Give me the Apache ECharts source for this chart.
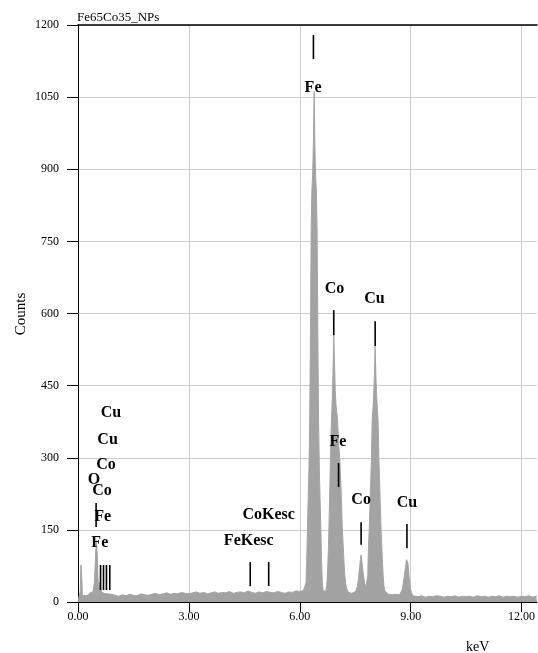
<!DOCTYPE html>
<html>
<head>
<meta charset="utf-8">
<script src="https://cdn.jsdelivr.net/npm/echarts@6/dist/echarts.min.js"></script>
<style>
  html, body { margin: 0; padding: 0; background: #fff; }
  #chart { width: 538px; height: 653px; }
</style>
</head>
<body>
<div id="chart"></div>
<script>
// EDS spectrum of Fe65Co35 nanoparticles: channel energy (keV) and counts
const energy = [
  0.00, 0.04, 0.06, 0.08, 0.10, 0.12, 0.16, 0.20, 0.24, 0.28,
  0.32, 0.36, 0.40, 0.42, 0.44, 0.46, 0.48, 0.50, 0.52, 0.54,
  0.56, 0.58, 0.60, 0.64, 0.70, 0.75, 0.80, 0.85, 0.90, 0.95,
  1.0, 1.1, 1.2, 1.3, 1.4, 1.5, 1.6, 1.7, 1.8, 1.9,
  2.0, 2.1, 2.2, 2.3, 2.4, 2.5, 2.6, 2.7, 2.8, 2.9,
  3.0, 3.1, 3.2, 3.3, 3.4, 3.5, 3.6, 3.7, 3.8, 3.9,
  4.0, 4.1, 4.2, 4.3, 4.4, 4.5, 4.6, 4.7, 4.8, 4.9,
  5.0, 5.1, 5.2, 5.3, 5.4, 5.5, 5.6, 5.7, 5.8, 5.9,
  6.0, 6.1,
  6.13, 6.15, 6.17, 6.19, 6.21, 6.23, 6.25, 6.27, 6.29, 6.31,
  6.33, 6.35, 6.37, 6.39, 6.41, 6.43, 6.45, 6.47, 6.49, 6.51,
  6.53, 6.55, 6.57, 6.59, 6.61, 6.63, 6.66, 6.69,
  6.72, 6.74, 6.76, 6.78, 6.80, 6.82, 6.84, 6.86, 6.88, 6.90,
  6.92, 6.94, 6.96, 6.98, 7.00, 7.02, 7.04, 7.06, 7.08, 7.10,
  7.12, 7.14, 7.16, 7.18, 7.20, 7.22, 7.24, 7.27, 7.30,
  7.34, 7.38, 7.42, 7.46, 7.49,
  7.52, 7.56, 7.59, 7.62, 7.64, 7.66, 7.68, 7.70, 7.73, 7.76, 7.79,
  7.82, 7.84, 7.86, 7.88, 7.90, 7.92, 7.94, 7.96, 7.98, 8.00,
  8.02, 8.04, 8.06, 8.08, 8.10, 8.12, 8.14, 8.16, 8.18, 8.20,
  8.22, 8.24, 8.26, 8.28, 8.31,
  8.35, 8.40, 8.45, 8.50, 8.55, 8.60, 8.65, 8.70,
  8.74, 8.77, 8.80, 8.83, 8.86, 8.89, 8.91, 8.93, 8.96, 8.99, 9.02, 9.06,
  9.1, 9.2, 9.3, 9.4, 9.5, 9.6, 9.7, 9.8, 9.9, 10.0,
  10.1, 10.2, 10.3, 10.4, 10.5, 10.6, 10.7, 10.8, 10.9, 11.0,
  11.1, 11.2, 11.3, 11.4, 11.5, 11.6, 11.7, 11.8, 11.9, 12.0,
  12.1, 12.2, 12.3, 12.4, 12.42
];
const counts = [
  0, 4, 22, 77, 55, 14, 11, 13, 17, 14,
  19, 16, 21, 27, 38, 68, 104, 128, 98, 52,
  34, 40, 31, 22, 18, 15, 17, 14, 16, 13,
  14, 12, 15, 13, 16, 14, 13, 17, 15, 14,
  16, 18, 15, 17, 19, 16, 18, 17, 20, 18,
  17, 19, 21, 18, 20, 17, 19, 21, 18, 20,
  19, 22, 18, 20, 21, 19, 23, 20, 18, 21,
  19, 22, 20, 19, 22, 20, 18, 21, 20, 23,
  22, 24,
  22, 24, 40, 90, 160, 220, 280, 380, 560, 780,
  860, 890, 960, 1062, 950, 885, 855, 770, 550, 375,
  275, 215, 155, 88, 42, 24, 21, 22,
  28, 45, 80, 120, 190, 260, 330, 380, 420, 480,
  555, 500, 440, 410, 395, 380, 350, 320, 300, 270,
  230, 180, 140, 110, 80, 55, 40, 28, 22,
  20, 18, 21, 19, 22,
  24, 32, 50, 72, 88, 98, 86, 70, 52, 38, 30,
  30, 55, 115, 150, 200, 250, 300, 380, 400, 430,
  470, 530, 470, 430, 400, 375, 300, 250, 200, 150,
  115, 80, 50, 32, 22,
  18, 16, 17, 15, 14, 16, 13, 15,
  18, 25, 38, 55, 72, 88, 92, 80, 50, 30, 20, 13,
  12, 11, 13, 10, 12, 11, 13, 12, 10, 12,
  11, 13, 10, 12, 11, 12, 10, 13, 11, 12,
  10, 12, 11, 13, 10, 12, 11, 12, 10, 12,
  11, 13, 10, 12, 11
];

// Element line markers: energy (keV), lower and upper end (counts)
const markerEnergy = [6.37, 6.92, 8.04, 7.05, 7.66, 8.90, 4.66, 5.16, 0.49, 0.61, 0.69, 0.77, 0.86];
const markerBottom = [1129, 555, 532, 239, 119, 112, 33, 33, 156, 25, 25, 25, 25];
const markerTop    = [1179, 607, 584, 289, 166, 162, 83, 83, 206, 77, 77, 77, 77];

// Element labels: text, energy (keV), height (counts)
const labelText   = ['Fe', 'Co', 'Cu', 'Fe', 'Co', 'Cu', 'CoKesc', 'FeKesc', 'Cu', 'Cu', 'Co', 'O', 'Co', 'Fe', 'Fe'];
const labelEnergy = [6.36, 6.94, 8.02, 7.03, 7.66, 8.90, 5.16, 4.62, 0.89, 0.80, 0.76, 0.43, 0.65, 0.67, 0.59];
const labelCounts = [1069, 651, 630, 333, 212, 206, 181, 127, 393, 337, 285, 254, 231, 177, 123];

const xTicks = [0, 3, 6, 9, 12];
const xMax = 12.42;

const serif = "'Liberation Serif', 'Times New Roman', serif";
const gray = '#a3a3a3';

const chart = echarts.init(document.getElementById('chart'), null, { renderer: 'canvas' });

chart.setOption({
  animation: false,
  backgroundColor: '#fff',
  grid: { left: 78, right: 0, top: 25, bottom: 51, containLabel: false },
  xAxis: [{
    type: 'value',
    min: 0,
    max: xMax,
    interval: 3,
    axisLine: { lineStyle: { color: '#000', width: 1 } },
    axisTick: { show: true, length: 10, lineStyle: { color: '#000' }, customValues: xTicks },
    axisLabel: {
      color: '#000', fontFamily: serif, fontSize: 12, margin: 9,
      customValues: xTicks,
      formatter: v => v.toFixed(2)
    },
    splitLine: { show: true, lineStyle: { color: '#cccccc', width: 1 } }
  }, {
    type: 'value',
    position: 'top',
    min: 0,
    max: xMax,
    axisLine: { show: true, lineStyle: { color: '#000', width: 1.5 } },
    axisTick: { show: false },
    axisLabel: { show: false },
    splitLine: { show: false }
  }],
  yAxis: {
    type: 'value',
    min: 0,
    max: 1200,
    interval: 150,
    axisLine: { show: true, lineStyle: { color: '#000', width: 1 } },
    axisTick: { show: true, length: 11, lineStyle: { color: '#000' } },
    axisLabel: { color: '#000', fontFamily: serif, fontSize: 12, margin: 19, formatter: v => String(v) },
    splitLine: { show: true, lineStyle: { color: '#cccccc', width: 1 } }
  },
  graphic: [
    { type: 'text', left: 77, top: 11, style: { text: 'Fe65Co35_NPs', font: '13px ' + serif, fill: '#000' } },
    { type: 'text', left: 466, top: 640, style: { text: 'keV', font: '14px ' + serif, fill: '#000' } },
    {
      type: 'text', x: 21, y: 314, rotation: Math.PI / 2,
      style: { text: 'Counts', font: '15px ' + serif, fill: '#000', align: 'center', verticalAlign: 'middle' }
    }
  ],
  series: [
    {
      type: 'line',
      data: energy.map((e, i) => [e, counts[i]]),
      showSymbol: false,
      symbol: 'none',
      sampling: false,
      lineStyle: { color: gray, width: 1 },
      areaStyle: { color: gray, opacity: 1 },
      z: 2
    },
    {
      type: 'custom',
      data: markerEnergy.map((e, i) => [e, markerBottom[i], markerTop[i]]),
      renderItem: (params, api) => {
        const a = api.coord([api.value(0), api.value(1)]);
        const b = api.coord([api.value(0), api.value(2)]);
        return {
          type: 'line',
          shape: { x1: a[0], y1: a[1], x2: b[0], y2: b[1] },
          style: { stroke: '#000', lineWidth: 1.6 }
        };
      },
      z: 5
    },
    {
      type: 'custom',
      data: labelEnergy.map((e, i) => [e, labelCounts[i]]),
      renderItem: (params, api) => {
        const p = api.coord([api.value(0), api.value(1)]);
        return {
          type: 'text',
          x: p[0],
          y: p[1],
          style: {
            text: labelText[params.dataIndex],
            font: 'bold 16px ' + serif,
            fill: '#000',
            align: 'center',
            verticalAlign: 'middle'
          }
        };
      },
      z: 6
    }
  ]
});
</script>
</body>
</html>
